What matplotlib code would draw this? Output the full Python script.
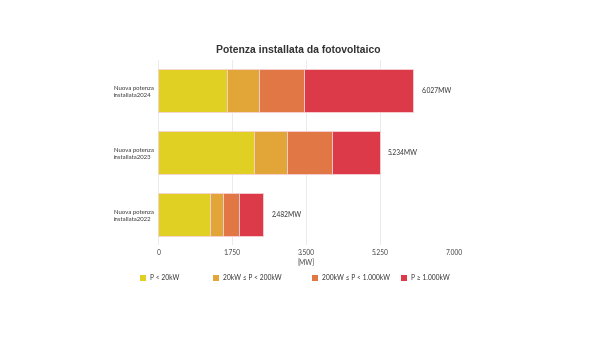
import numpy as np
import matplotlib
matplotlib.use("Agg")
from matplotlib import pyplot as plt
from matplotlib.patches import Rectangle

# Data (MW)
anni = ["Nuova potenza\ninstallata2022", "Nuova potenza\ninstallata2023", "Nuova potenza\ninstallata2024"]
fascia_1 = [1231, 2263, 1633]   # P < 20kW
fascia_2 = [290, 771, 739]      # 20kW <= P < 200kW
fascia_3 = [385, 1082, 1063]    # 200kW <= P < 1.000kW
fascia_4 = [576, 1118, 2592]    # P >= 1.000kW
nomi_fasce = ["P < 20kW", "20kW ≤ P < 200kW", "200kW ≤ P < 1.000kW", "P ≥ 1.000kW"]
colori = ["#E0D024", "#E2A638", "#E07744", "#DC3A49"]
x_ticks = [0, 1750, 3500, 5250, 7000]

def it_fmt(v):
    # Italian thousands separator
    return "{:,}".format(int(v)).replace(",", ".")

W, H = 600, 337
fig = plt.figure(figsize=(6.0, 3.37), dpi=100)
ax = fig.add_axes([0.264, 0.273, 0.493, 0.549])

y = np.arange(len(anni))
left = np.zeros(len(anni))
for serie, col in zip([fascia_1, fascia_2, fascia_3, fascia_4], colori):
    ax.barh(y, serie, left=left, height=0.7, color=col, edgecolor="#F6D3D6",
            linewidth=0.6, zorder=2)
    left = left + np.array(serie)

# total labels
for yi, tot in zip(y, left):
    ax.annotate(it_fmt(tot) + "MW", xy=(tot, yi), xytext=(6, 0),
                textcoords="offset points", va="center", ha="left",
                fontsize=4.8, family="Lato", color="#333333")

ax.set_xlim(0, 7000)
ax.set_ylim(-0.5, 2.5)
ax.set_xticks(x_ticks)
ax.set_xticklabels([it_fmt(t) for t in x_ticks], fontsize=4.8, family="Lato", color="#444444")
ax.set_yticks(y)
ax.set_yticklabels(anni, fontsize=4.3, family="Lato", color="#333333", ha="left",
                   linespacing=1.5)
ax.tick_params(axis="y", length=0, pad=32)
ax.tick_params(axis="x", length=0, pad=3)
ax.grid(axis="x", color="#E8E8E8", linewidth=0.6, zorder=0)
for s in ax.spines.values():
    s.set_visible(False)
ax.set_xlabel("[MW]", fontsize=4.8, family="Lato", color="#444444", labelpad=2)

fig.text(0.497, 0.852, "Potenza installata da fotovoltaico", ha="center", va="center",
         fontsize=7.5, fontweight="bold", family="Liberation Sans", color="#333333")

# legend, drawn by hand to follow the uneven spacing of the original
leg_x = [140, 213, 312, 401]
leg_y = 278
sq = 6
for xp, nome, col in zip(leg_x, nomi_fasce, colori):
    fig.add_artist(Rectangle(((xp) / W, 1 - (leg_y + sq / 2) / H), sq / W, sq / H,
                             transform=fig.transFigure, facecolor=col, edgecolor="none"))
    fig.text((xp + sq + 4) / W, 1 - leg_y / H, nome, ha="left", va="center",
             fontsize=4.8, family="Lato", color="#333333")

plt.savefig("out.png", dpi=100)
